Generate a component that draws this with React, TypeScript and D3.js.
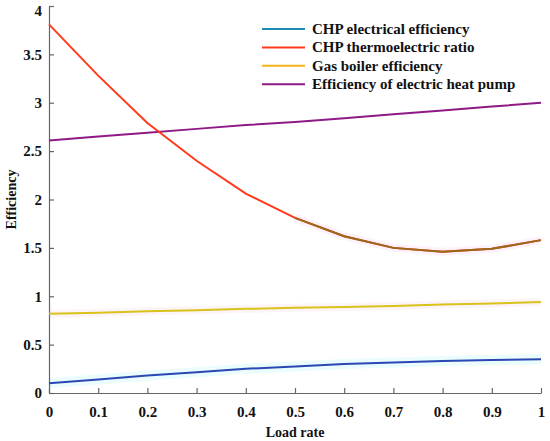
import React, { useRef, useEffect } from "react";
import * as d3 from "d3";

const loadRate = [0, 0.1, 0.2, 0.3, 0.4, 0.5, 0.6, 0.7, 0.8, 0.9, 1];
const chpElectrical = [0.1, 0.14, 0.18, 0.215, 0.25, 0.275, 0.3, 0.315, 0.33, 0.34, 0.35];
const chpThermoRatio = [3.81, 3.28, 2.79, 2.4, 2.06, 1.81, 1.62, 1.5, 1.46, 1.49, 1.58];
const gasBoiler = [0.82, 0.83, 0.845, 0.855, 0.87, 0.88, 0.89, 0.9, 0.915, 0.925, 0.94];
const heatPump = [2.61, 2.65, 2.69, 2.73, 2.77, 2.8, 2.84, 2.88, 2.92, 2.96, 3.0];

const xTicks = [0, 0.1, 0.2, 0.3, 0.4, 0.5, 0.6, 0.7, 0.8, 0.9, 1];
const yTicks = [0, 0.5, 1, 1.5, 2, 2.5, 3, 3.5, 4];

const legendLabels = [
  "CHP electrical efficiency",
  "CHP thermoelectric ratio",
  "Gas boiler efficiency",
  "Efficiency of electric heat pump",
];
const legendColors = ["#1c8db0", "#ff3a1c", "#f5b21a", "#8e1a86"];

export default function App() {
  const ref = useRef<SVGSVGElement | null>(null);

  useEffect(() => {
    const width = 550;
    const height = 441;
    const margin = { top: 6, right: 9, bottom: 48, left: 49 };
    const font = "'Palatino Linotype', 'Book Antiqua', 'Liberation Serif', serif";

    d3.select(ref.current).selectAll("*").remove();
    const svg = d3.select(ref.current).attr("width", width).attr("height", height);

    const x = d3.scaleLinear().domain([0, 1]).range([margin.left, width - margin.right]);
    const y = d3.scaleLinear().domain([0, 4]).range([height - margin.bottom, margin.top]);

    const line = (vals: number[]) =>
      d3
        .line<number>()
        .x((_, i) => x(loadRate[i]))
        .y((d) => y(d))(vals) as string;

    // faint halos behind some lines (as in the source image)
    svg.append("path").attr("d", line(chpElectrical)).attr("fill", "none")
      .attr("stroke", "#eafcfd").attr("stroke-width", 10);
    svg.append("path").attr("d", line(gasBoiler)).attr("fill", "none")
      .attr("stroke", "#fdf4f8").attr("stroke-width", 8);
    const tail = chpThermoRatio.slice(5);
    const tailLine = d3.line<number>().x((_, i) => x(loadRate[i + 5])).y((d) => y(d));
    svg.append("path").attr("d", tailLine(tail) as string).attr("fill", "none")
      .attr("stroke", "#fdf1fb").attr("stroke-width", 8);

    // axes
    const xAxis = d3.axisBottom(x).tickValues(xTicks).tickSizeInner(-5).tickSizeOuter(0)
      .tickFormat((d) => d3.format("~g")(d as number));
    const yAxis = d3.axisLeft(y).tickValues(yTicks).tickSizeInner(-5).tickSizeOuter(0)
      .tickFormat((d) => d3.format("~g")(d as number));

    const gx = svg.append("g").attr("transform", `translate(0,${y(0)})`).call(xAxis);
    const gy = svg.append("g").attr("transform", `translate(${x(0)},0)`).call(yAxis);
    [gx, gy].forEach((g) => {
      g.selectAll(".domain, .tick line").attr("stroke", "#666").attr("stroke-width", 1.2);
      g.selectAll("text")
        .attr("fill", "#111")
        .style("font-family", font)
        .style("font-weight", "bold")
        .style("font-size", "15px");
    });
    gx.selectAll("text").attr("y", 13);
    gy.selectAll("text").attr("x", -7);
    // keep the top label inside the picture
    gy.selectAll<SVGTextElement, number>("text").filter((d) => d === 4).attr("dy", "0.6em");

    // data lines
    svg.append("path").attr("d", line(heatPump)).attr("fill", "none")
      .attr("stroke", "#8e1a86").attr("stroke-width", 2);
    svg.append("path").attr("d", line(gasBoiler)).attr("fill", "none")
      .attr("stroke", "#d9c21a").attr("stroke-width", 2);
    svg.append("path").attr("d", line(chpElectrical)).attr("fill", "none")
      .attr("stroke", "#2a47b3").attr("stroke-width", 2);
    svg.append("path").attr("d", line(chpThermoRatio)).attr("fill", "none")
      .attr("stroke", "#ff3a1c").attr("stroke-width", 2);
    svg.append("path").attr("d", tailLine(tail) as string).attr("fill", "none")
      .attr("stroke", "#9a6a1c").attr("stroke-width", 2);

    // axis titles
    svg.append("text").attr("x", x(0.5)).attr("y", 437).attr("text-anchor", "middle")
      .style("font-family", font).style("font-weight", "bold").style("font-size", "14px")
      .attr("fill", "#111").text("Load rate");
    svg.append("text").attr("transform", `translate(16,${y(2)}) rotate(-90)`)
      .attr("text-anchor", "middle")
      .style("font-family", font).style("font-weight", "bold").style("font-size", "14px")
      .attr("fill", "#111").text("Efficiency");

    // legend
    const lg = svg.append("g").attr("transform", "translate(262,29)");
    legendLabels.forEach((lab, i) => {
      const row = lg.append("g").attr("transform", `translate(0,${i * 18.4})`);
      row.append("line").attr("x1", 0).attr("x2", 43).attr("y1", 0).attr("y2", 0)
        .attr("stroke", legendColors[i]).attr("stroke-width", 2);
      row.append("text").attr("x", 50).attr("y", 5)
        .style("font-family", font).style("font-weight", "bold").style("font-size", "15px")
        .attr("fill", "#111").text(lab);
    });
  }, []);

  return (
    <svg ref={ref} style={{ position: "absolute", left: 0, top: 0, background: "#fff" }}></svg>
  );
}
